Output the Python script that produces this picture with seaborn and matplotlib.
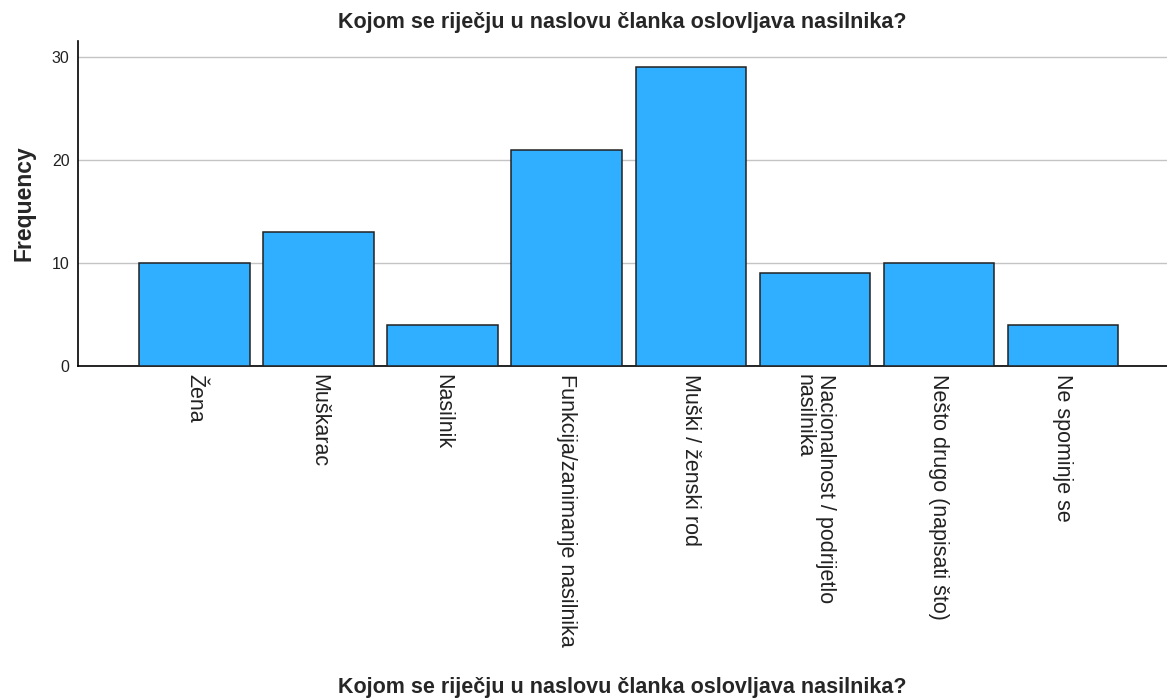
import matplotlib
matplotlib.use('Agg')
import pandas as pd
import numpy as np
import matplotlib.pyplot as plt
import seaborn as sns

categories = ['Žena', 'Muškarac', 'Nasilnik', 'Funkcija/zanimanje nasilnika',
              'Muški / ženski rod', 'Nacionalnost / podrijetlo\nnasilnika',
              'Nešto drugo (napisati što)', 'Ne spominje se']
frequency = [10, 13, 4, 21, 29, 9, 10, 4]
yticks = [0, 10, 20, 30]
title = 'Kojom se riječju u naslovu članka oslovljava nasilnika?'

df = pd.DataFrame({'cat': categories, 'freq': frequency})

sns.set_style('white')
plt.rcParams['font.family'] = ['Liberation Sans', 'DejaVu Sans']

fig = plt.figure(figsize=(11.67, 6.98), dpi=100)
ax = fig.add_axes([0.0668, 0.4756, 0.9332, 0.4657])

sns.barplot(data=df, x='cat', y='freq', color='#30aeff', saturation=1,
            width=0.89, edgecolor='#222222', linewidth=1.1, ax=ax, zorder=3)

ax.set_xlim(-0.94, 7.84)
ax.set_ylim(0, 31.55)
ax.set_yticks(yticks)
ax.yaxis.grid(True, color='#c4c4c4', linewidth=1, zorder=0)
ax.set_axisbelow(True)
for s in ['top', 'right']:
    ax.spines[s].set_visible(False)
for s in ['left', 'bottom']:
    ax.spines[s].set_color('black')
    ax.spines[s].set_linewidth(1.2)

ax.tick_params(axis='y', labelsize=11.5, length=0, pad=6, labelcolor='#222222')
ax.tick_params(axis='x', labelsize=15.5, length=0, pad=6, labelcolor='#222222')
for lab in ax.get_xticklabels():
    lab.set_rotation(270)
    lab.set_ha('center')
    lab.set_va('top')
    lab.set_multialignment('left')
    lab.set_linespacing(1.0)

ax.set_ylabel('Frequency', fontsize=16.5, fontweight='bold', labelpad=12)
ax.set_xlabel('')
fig.text(0.5335, 0.0145, title, ha='center', va='center', fontsize=15.5, fontweight='bold')
fig.text(0.5335, 0.968, title, ha='center', va='center', fontsize=15.5, fontweight='bold')

fig.savefig('out.png', dpi=100)
